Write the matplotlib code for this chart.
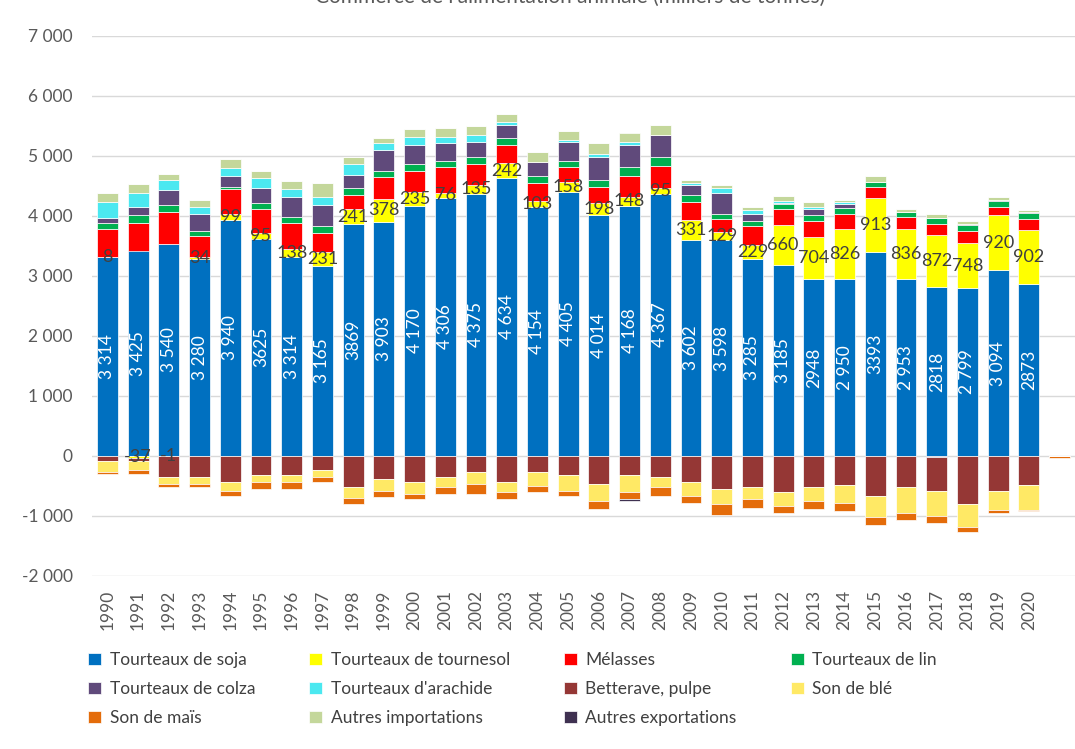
import numpy as np
import matplotlib.pyplot as plt
from matplotlib.ticker import FuncFormatter

plt.rcParams['font.family'] = ['Lato', 'DejaVu Sans']

# categories (last one is the empty slot at the right)
annees = [str(a) for a in range(1990, 2021)] + [""]

soja = [3314, 3425, 3540, 3280, 3940, 3625, 3314, 3165, 3869, 3903, 4170, 4306, 4375, 4634, 4154, 4405,
        4014, 4168, 4367, 3602, 3598, 3285, 3185, 2948, 2950, 3393, 2953, 2818, 2799, 3094, 2873, 0]
soja_txt = ["3 314", "3 425", "3 540", "3 280", "3 940", "3625", "3 314", "3 165", "3869", "3 903", "4 170",
            "4 306", "4 375", "4 634", "4 154", "4 405", "4 014", "4 168", "4 367", "3 602", "3 598", "3 285",
            "3 185", "2948", "2 950", "3393", "2 953", "2818", "2 799", "3 094", "2873", ""]
tournesol = [8, -37, -1, 34, 99, 95, 138, 231, 241, 378, 235, 76, 135, 242, 103, 158,
             198, 148, 95, 331, 129, 229, 660, 704, 826, 913, 836, 872, 748, 920, 902, 0]
melasses = [456, 464, 521, 347, 405, 402, 437, 326, 240, 363, 351, 429, 362, 302, 299, 248,
            277, 351, 377, 306, 223, 325, 277, 270, 263, 183, 189, 171, 197, 130, 169, 0]
lin = [110, 122, 117, 89, 45, 95, 89, 111, 111, 112, 116, 111, 106, 116, 111, 111,
       117, 144, 139, 111, 89, 83, 84, 89, 89, 83, 83, 111, 112, 100, 100, 0]
colza = [83, 139, 261, 289, 172, 250, 344, 345, 228, 338, 306, 289, 261, 228, 227, 317,
         372, 367, 378, 172, 339, 117, 12, 111, 78, 0, 0, -22, 15, 23, 23, 0]
arachide = [267, 228, 167, 111, 145, 166, 122, 144, 183, 117, 144, 111, 117, 39, 0, 33,
            61, 55, 0, 34, 83, 55, 33, 28, 33, 0, 0, 0, 0, 0, 0, 0]
betterave = [-83, -50, -349, -350, -433, -322, -322, -233, -522, -378, -433, -350, -261, -433, -261, -317,
             -467, -317, -350, -433, -550, -517, -606, -517, -489, -667, -517, -556, -800, -578, -489, 0]
son_ble = [-189, -150, -117, -117, -150, -117, -117, -117, -172, -205, -200, -172, -200, -173, -233, -261,
           -283, -289, -172, -228, -256, -205, -227, -233, -289, -344, -433, -428, -383, -316, -405, 0]
son_mais = [-22, -56, -55, -55, -84, -105, -105, -83, -112, -106, -84, -111, -172, -111, -112, -83,
            -139, -111, -139, -117, -172, -139, -111, -139, -139, -139, -111, -111, -78, -50, -28, -40]
autres_imp = [150, 155, 94, 117, 144, 123, 134, 234, 117, 89, 122, 150, 150, 139, 173, 139,
              172, 150, 166, 50, 61, 56, 83, 89, 33, 95, 61, 67, 40, 55, 33, 0]
autres_exp = [0] * 17 + [-33] + [0] * 14

series = [
    ("Tourteaux de soja", soja, "#0070C0"),
    ("Tourteaux de tournesol", tournesol, "#FFFF00"),
    ("Mélasses", melasses, "#FF0000"),
    ("Tourteaux de lin", lin, "#00B050"),
    ("Tourteaux de colza", colza, "#604A7B"),
    ("Tourteaux d'arachide", arachide, "#4BE8F0"),
    ("Betterave, pulpe", betterave, "#953735"),
    ("Son de blé", son_ble, "#FFE965"),
    ("Son de maïs", son_mais, "#E46C0A"),
    ("Autres importations", autres_imp, "#C4D79B"),
    ("Autres exportations", autres_exp, "#3F3151"),
]

fig = plt.figure(figsize=(10.75, 7.49), dpi=100)
ax = fig.add_axes([92 / 1075, 1 - 576 / 749, 983 / 1075, 540 / 749])

x = np.arange(len(annees))
pos = np.zeros(len(x))
neg = np.zeros(len(x))
handles = []
bases = {}
for nom, vals, coul in series:
    v = np.array(vals, dtype=float)
    bas = np.where(v >= 0, pos, neg)
    b = ax.bar(x, v, 0.68, bottom=bas, color=coul, edgecolor="white", linewidth=0.5, label=nom, zorder=2)
    handles.append(b)
    bases[nom] = bas.copy()
    pos += np.clip(v, 0, None)
    neg += np.clip(v, None, 0)

# data labels
for i in range(len(annees) - 1):
    ax.text(x[i], bases["Tourteaux de soja"][i] + soja[i] / 2, soja_txt[i], rotation=90,
            ha="center", va="center", color="white", fontsize=12.5, zorder=3)
    ax.text(x[i], bases["Tourteaux de tournesol"][i] + tournesol[i] / 2, str(tournesol[i]),
            ha="center", va="center", color="#404040", fontsize=13, zorder=3)

ax.set_xlim(-0.5, len(annees) - 0.5)
ax.set_ylim(-2000, 7000)
ax.set_yticks(range(-2000, 7001, 1000))
ax.yaxis.set_major_formatter(FuncFormatter(lambda v, p: f"{int(v):,}".replace(",", " ")))
ax.set_xticks(x)
ax.set_xticklabels(annees, rotation=90)
ax.tick_params(axis="both", length=0, labelsize=12.5, colors="#595959")
ax.tick_params(axis="y", pad=14)
ax.tick_params(axis="x", pad=10)
ax.grid(axis="y", color="#D9D9D9", linewidth=1, zorder=0)
ax.set_axisbelow(True)
for s in ax.spines.values():
    s.set_visible(False)

fig.text(0.53, 1 - 3 / 749, "Commerce de l'alimentation animale (milliers de tonnes)",
         ha="center", va="baseline", fontsize=15, color="#595959")

ordre = [0, 4, 8, 1, 5, 9, 2, 6, 10, 3, 7]
fig.legend([handles[i] for i in ordre], [series[i][0] for i in ordre], ncol=4,
           loc="upper left", bbox_to_anchor=(88 / 1075, 1 - 652 / 749), frameon=False,
           fontsize=12.5, handlelength=0.75, handleheight=0.75, handletextpad=0.5,
           columnspacing=3.1, labelspacing=0.75, borderaxespad=0, borderpad=0, labelcolor="#404040")

fig.savefig("out.png", dpi=100)
